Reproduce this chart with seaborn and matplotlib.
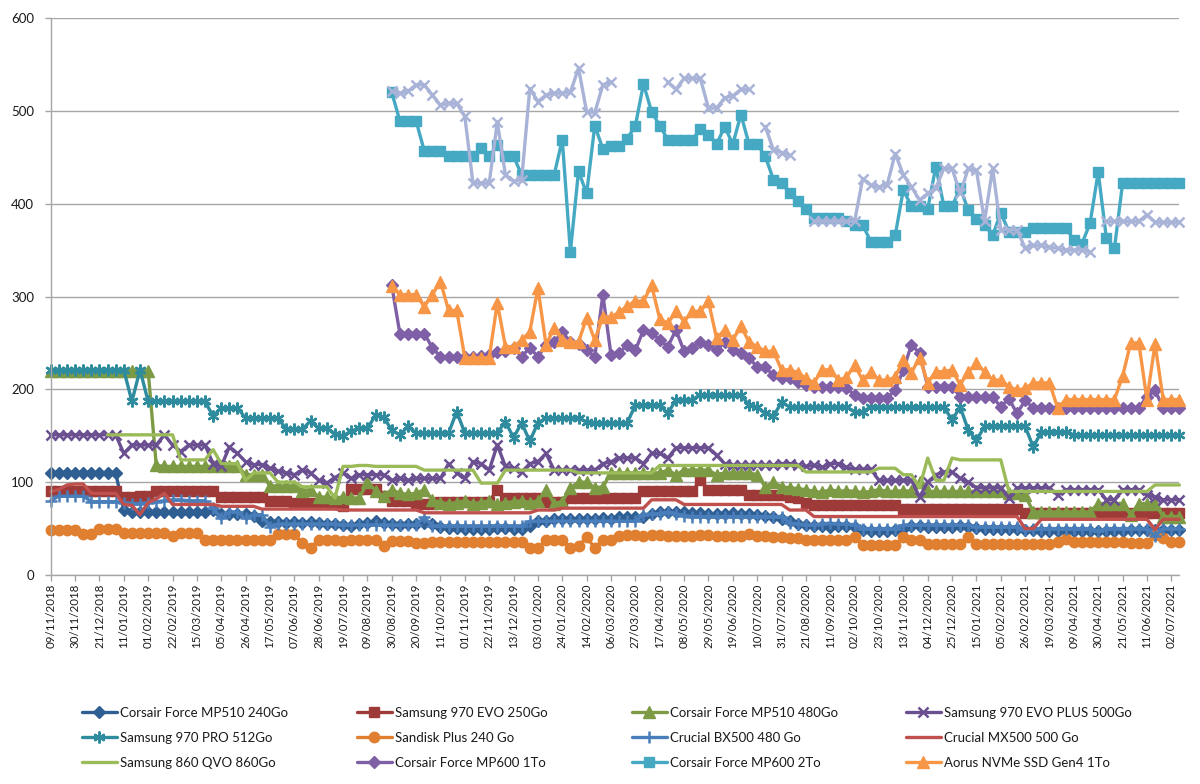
import numpy as np
import pandas as pd
import matplotlib
matplotlib.use("Agg")
import matplotlib.pyplot as plt
from matplotlib.lines import Line2D
import seaborn as sns

nan = float("nan")

tick_labels = [
    "09/11/2018", "30/11/2018", "21/12/2018", "11/01/2019", "01/02/2019", "22/02/2019",
    "15/03/2019", "05/04/2019", "26/04/2019", "17/05/2019", "07/06/2019", "28/06/2019",
    "19/07/2019", "09/08/2019", "30/08/2019", "20/09/2019", "11/10/2019", "01/11/2019",
    "22/11/2019", "13/12/2019", "03/01/2020", "24/01/2020", "14/02/2020", "06/03/2020",
    "27/03/2020", "17/04/2020", "08/05/2020", "29/05/2020", "19/06/2020", "10/07/2020",
    "31/07/2020", "21/08/2020", "11/09/2020", "02/10/2020", "23/10/2020", "13/11/2020",
    "04/12/2020", "25/12/2020", "15/01/2021", "05/02/2021", "26/02/2021", "19/03/2021",
    "09/04/2021", "30/04/2021", "21/05/2021", "11/06/2021", "02/07/2021",
]

# weekly prices (140 weeks, first = 09/11/2018)
mp510_240 = [
    110, 110, 110, 110, 110, 110, 110, 110, 110,
    70, 68, 68, 68, 68, 68, 68, 68, 68, 68, 68,
    70,
    66, 66, 66, 66, 64,
    58, 57, 57, 56, 57, 56, 57, 56, 55, 55,
    54, 53, 55, 56, 58, 56, 55, 54, 55, 55,
    56, 55, 52, 51, 51, 50, 50, 50, 50, 51, 51, 50, 50, 53,
    58, 58, 60, 60, 60, 60, 60, 60, 61, 60, 62, 62, 62, 63,
    66, 68, 68, 68, 68, 67, 67, 66, 66, 66, 67, 66, 66, 65, 64, 63, 60,
    58, 55, 54,
    53, 53, 52, 53, 53, 52,
    48, 47, 47, 47, 48,
    50,
    53, 53, 52, 52, 52, 52, 53, 52,
    51,
    50, 50, 50, 50, 50,
    49, 48,
    47, 47, 47, 47, 47, 47, 47, 47, 47, 47, 47,
    48,
    49, 49, 49, 49, 49, 49,
]

evo970_250 = [
    90, 90, 90, 90, 90, 90, 90, 90, 90,
    84, 84,
    85, 85,
    91, 91, 91, 91, 91, 91, 91, 91,
    84, 84, 84, 84, 84, 84,
    80, 80, 80,
    78, 78, 78, 78, 78, 78,
    74,
    93, 93, 93, 93,
    85,
    80, 80, 80,
    76, 76, 76, 79, 79, 79, 79, 79, 79, 79,
    92,
    83, 83, 83, 83, 83,
    79, 79, 79,
    83, 83, 83, 83, 83, 83, 83, 83, 83,
    90, 90, 90, 90, 90, 90, 90,
    102,
    92, 92, 92, 92, 92,
    86, 86, 86, 86, 86,
    84, 83, 78,
    75, 75, 75, 75, 75, 75, 75, 75, 75, 75, 75,
    71, 71, 71, 71, 71, 71, 71, 71, 71, 71, 71, 71, 71, 71, 71,
    67, 67, 67, 67, 67, 67, 67, 67, 67, 67, 67, 67, 67, 67, 67, 67, 67, 67, 67, 67,
]

mp510_480 = [
    220, 220, 220, 220, 220, 220, 220, 220, 220, 220, 220, 220, 220,
    118,
    117, 117, 117, 117, 117, 117,
    117, 117, 117, 117,
    108, 108, 108,
    96, 96, 96, 96,
    91, 92,
    84, 84, 83, 84, 83,
    83, 100, 91, 85, 92, 88, 87, 88, 92, 81,
    78, 77, 78, 80, 77, 78, 80, 77, 78, 79, 80, 78, 80,
    92, 77, 79, 94,
    100, 100,
    94, 95,
    110, 110, 110, 110, 110, 110, 110,
    113, 108,
    113, 113, 113, 113,
    108,
    110, 110, 110, 110,
    108, 95, 100, 95, 94,
    93, 92,
    90, 89, 92, 90, 91, 90, 89, 90, 92, 90, 90, 91, 90,
    100,
    90, 90, 90, 90, 90, 90, 90, 90, 90, 90,
    88, 88, 86,
    68, 68, 68, 68, 68, 68, 68, 68,
    77, 77, 77, 77,
    65,
    77, 77, 77,
    63, 63, 63,
]

evoplus970_500 = [
    151, 151, 151, 151, 151, 151, 151, 151, 151,
    131,
    140, 140, 140, 140,
    151, 140, 133,
    140, 140, 140,
    120, 117, 138, 131, 122,
    119, 119,
    115, 112, 110, 108, 113, 110, 102, 99, 105, 110, 104,
    108, 108, 108, 108,
    102, 104,
    102, 104, 104, 104, 104,
    120, 110, 104, 122, 120, 113, 140, 117, 115, 111, 120, 122, 131,
    113, 113, 113, 113, 113, 113,
    120, 122,
    126, 126, 126,
    120,
    131, 131,
    126,
    137, 137, 137, 137, 137,
    129,
    120, 118, 118, 118, 118, 118, 118,
    120, 120,
    118, 117, 118, 116, 120, 120, 116, 114, 114, 114,
    102, 102, 102, 102, 102,
    84, 100, 108,
    111, 111,
    104, 100,
    94, 94, 94, 94,
    83,
    94, 94, 94, 94, 94,
    86,
    92, 92, 92, 92, 92,
    81, 81,
    92, 92, 92,
    86, 84,
    81, 81, 81,
]

pro970_512 = [
    221, 221, 221, 221, 221, 221, 221, 221, 221, 221,
    187, 221,
    187, 187, 187, 187, 187, 187, 187, 187,
    171,
    180, 180, 180,
    169, 169, 169, 169, 169,
    157, 157, 157,
    166, 158, 158, 152, 150, 155, 158, 158, 172, 170, 156, 151, 160,
    153, 153, 153, 153, 153,
    176,
    153, 153, 153, 153, 153,
    165, 148, 164, 144, 164,
    169, 169, 169, 169, 169,
    165,
    164, 164, 164, 164, 164,
    183, 183, 183, 183,
    174,
    189, 189, 189,
    194, 194, 194, 194, 194, 194,
    183, 181, 174, 171, 186,
    181, 181, 181, 181, 181, 181, 181, 181,
    176, 176,
    181, 181, 181, 181, 181, 181, 181, 181, 181, 181,
    167, 181, 156, 145,
    160, 160, 160, 160, 160, 160,
    138,
    154, 154, 154, 154,
    151, 151, 151, 151, 151, 151, 151, 151, 151, 151, 151, 151, 151, 151,
]

sandisk_240 = [
    49, 49, 49, 49,
    44, 44,
    50, 50, 50,
    45, 45, 45, 45, 45, 45,
    42,
    45, 45, 45,
    38, 38, 38, 38, 38, 38, 38, 38, 38,
    44, 44, 44,
    34, 29,
    38, 38, 38,
    37,
    38, 38, 38, 38,
    31,
    37, 37, 37,
    35, 35, 36,
    36, 36, 36, 36, 36, 36, 36, 36, 36, 36, 36,
    29, 29,
    38, 38, 38,
    29, 31, 41, 29,
    38, 38,
    42, 43, 43, 42, 43, 43, 42, 42, 42, 42, 43, 43, 42, 42, 42, 42, 44, 42, 42, 41, 41, 40,
    40, 38,
    38, 38, 38, 38, 38,
    41,
    32, 32, 32, 32, 32,
    41,
    38, 38,
    33, 33, 33, 33, 33,
    41,
    33, 33, 33, 33, 33, 33, 33, 33, 33, 33,
    36, 39,
    36, 36, 36, 36, 36, 36, 36,
    35, 35, 35,
    43, 40,
    36, 36,
]

bx500_480 = [
    80, 85, 85, 85, 85, 79, 79, 79, 79,
    78, 77, 77, 78, 79, 80, 81, 81, 80, 80, 80,
    72,
    61, 68, 68, 61, 65, 65,
    52, 55, 55, 55, 55, 55, 55, 55, 55,
    54, 54, 54, 54, 54, 54, 54, 54, 54, 54,
    62,
    53, 53, 53, 53, 53, 53, 53, 53, 53, 53, 53, 53,
    58, 58, 58, 58, 58, 58, 58, 58, 58, 58, 58, 58, 58, 58,
    65, 66, 66, 68, 66, 64, 63,
    63, 63, 63, 63, 63, 63, 63, 63, 63, 63, 63,
    56, 55, 54, 54, 55, 56, 55, 55, 54,
    50, 50, 50, 50, 50,
    54, 54, 54, 54, 54, 54, 54, 54, 54,
    52, 52, 52, 52, 52, 52,
    48, 50,
    50, 50, 50, 50, 50, 50, 50,
    47,
    50, 50, 50, 50, 50, 50,
    42,
    50, 50, 50,
]

mx500_500 = [
    90, 92, 97, 98, 98,
    88, 88, 88, 88,
    76, 75, 65, 78, 82, 88,
    76, 76, 76, 76, 76, 76,
    74, 74, 74, 74, 74,
    71, 71, 71, 71, 71, 71, 71, 71, 71, 71,
    70, 70, 70, 70, 70, 70, 70, 70, 70, 70,
    67, 67, 67, 67, 67, 67, 67, 67, 67, 67, 67, 67, 67, 67,
    70, 70, 70,
    72, 72, 72, 72, 72, 72, 72, 72, 72, 72, 72,
    81, 81, 81, 81,
    76, 76, 76, 76, 76, 76, 76, 76, 76, 76, 76, 76, 76,
    70, 70, 70,
    63, 63, 63, 63, 63, 63, 63, 63, 63, 63, 63, 63, 63,
    63, 63, 63, 63, 63, 63, 63, 63, 63, 63, 63, 63, 63,
    50, 50,
    60, 60, 60, 60, 60, 60, 60, 60, 60, 60, 60, 60, 60, 60,
    49,
    60, 60, 60,
]

qvo860_860 = [
    nan, nan, nan, nan, nan, nan, nan,
    151, 151, 151, 151, 151, 151, 151, 151, 151,
    124, 124, 124, 124,
    135,
    120, 120, 120,
    102,
    110, 110, 110,
    100, 100, 100,
    95, 95, 95, 95,
    83,
    117, 117, 118, 118, 117, 117, 117, 117, 117, 117,
    113, 113, 113, 113, 113, 113, 113,
    99, 99, 99,
    113, 113, 113, 113, 113, 113, 113, 113, 113,
    110, 110, 110, 110, 110, 110, 110, 110, 110, 110,
    118, 118, 118, 118, 118, 118, 118, 118, 118, 118, 118, 118, 118, 118, 118, 118, 118, 118,
    111, 111, 111, 111, 111, 111, 111, 111, 111,
    115, 115, 115,
    108, 108,
    94, 126,
    102, 102,
    126,
    124, 124, 124, 124, 124, 124,
    90, 90, 90, 90, 90, 90, 90, 90, 90, 90, 90, 90, 90, 90, 90, 90, 90, 90,
    97, 97, 97, 97,
]

mp600_1to = [
    nan, nan, nan, nan, nan, nan, nan, nan, nan, nan, nan, nan, nan, nan,
    nan, nan, nan, nan, nan, nan, nan, nan, nan, nan, nan, nan, nan, nan,
    nan, nan, nan, nan, nan, nan, nan, nan, nan, nan, nan, nan, nan, nan,
    312,
    260, 260, 260, 260,
    245,
    235, 235, 235,
    235, 235, 236, 237,
    240, 241, 245, 235, 245, 235, 248, 251, 262, 251, 249, 242, 235, 302,
    237, 239, 248, 242, 264, 261, 253, 246, 264, 241, 245, 251, 248, 242,
    251, 242, 239, 234, 224, 224, 215, 212, 212, 208, 205,
    203, 203, 203, 203, 201,
    194,
    191, 191, 191, 191,
    199, 221, 248, 239,
    203, 203, 203, 203,
    192, 192, 192, 192, 192,
    181, 190, 174, 188,
    180, 180, 180, 180, 180, 180, 180, 180, 180, 180, 180, 180, 180, 180,
    192, 199,
    180, 180, 180,
]

mp600_2to = [
    nan, nan, nan, nan, nan, nan, nan, nan, nan, nan, nan, nan, nan, nan,
    nan, nan, nan, nan, nan, nan, nan, nan, nan, nan, nan, nan, nan, nan,
    nan, nan, nan, nan, nan, nan, nan, nan, nan, nan, nan, nan, nan, nan,
    520,
    489, 489, 489,
    457, 457, 457,
    451, 451, 451, 451,
    460, 451, 463,
    451, 451,
    431, 431, 431, 431, 431,
    469, 348, 435, 411, 484, 459, 462, 462, 470, 484, 529, 499, 484,
    469, 469, 469, 469,
    480, 474, 464, 483, 464, 496, 464, 464, 451, 426, 422, 412, 403, 394,
    385, 385, 385, 385,
    381, 377, 377,
    359, 359, 359,
    366, 415, 397, 397, 394, 440, 397, 397, 417, 393, 383, 377, 366, 390,
    370, 370, 370,
    374, 374, 374, 374, 374,
    361, 357, 379, 434, 363, 352,
    422, 422, 422, 422, 422, 422, 422, 422,
]

aorus_1to = [
    nan, nan, nan, nan, nan, nan, nan, nan, nan, nan, nan, nan, nan, nan,
    nan, nan, nan, nan, nan, nan, nan, nan, nan, nan, nan, nan, nan, nan,
    nan, nan, nan, nan, nan, nan, nan, nan, nan, nan, nan, nan, nan, nan,
    311,
    302, 302, 302,
    289, 302, 316,
    285, 285,
    234, 234, 234, 234,
    293,
    246, 246,
    253, 262, 309, 248, 266, 253,
    251, 251,
    277, 253,
    278, 278,
    283, 290,
    295, 295,
    312, 276, 271, 284, 273,
    284, 284,
    295, 255, 264, 253, 268, 251, 246,
    241, 241,
    221, 221,
    218, 212, 207,
    221, 221,
    210, 213, 226, 210, 219,
    210, 210,
    213, 232, 218, 234, 207,
    219, 219,
    221, 205, 219, 228, 219,
    210, 210,
    203, 199, 201,
    207, 207, 207,
    180,
    189, 189, 189, 189, 189, 189, 189,
    214,
    250, 250,
    189, 249,
    189, 189, 189,
]

unlisted_x = [
    nan, nan, nan, nan, nan, nan, nan, nan, nan, nan, nan, nan, nan, nan,
    nan, nan, nan, nan, nan, nan, nan, nan, nan, nan, nan, nan, nan, nan,
    nan, nan, nan, nan, nan, nan, nan, nan, nan, nan, nan, nan, nan, nan,
    521, 519, 521, 528, 528, 517, 506, 508, 508, 494,
    422, 422, 422,
    488, 431, 424, 426, 524, 510, 517, 519, 519, 520, 546, 499, 498, 528, 531,
    nan, nan, nan, nan, nan, nan,
    531, 523,
    535, 535, 535,
    503, 503,
    514, 516,
    523, 523,
    nan,
    483, 458, 455, 452,
    nan, nan,
    381, 381, 381, 381, 381, 381,
    427, 420, 418, 420, 454, 431, 418, 404, 411, 417,
    438, 438,
    411, 438, 436, 381, 438,
    372, 372, 372,
    352,
    355, 355,
    353, 352,
    350, 350, 350,
    348,
    nan,
    381, 381, 381, 381, 381,
    388,
    380, 380, 380, 380,
]

series = [
    ("Corsair Force MP510 240Go", mp510_240),
    ("Samsung 970 EVO 250Go", evo970_250),
    ("Corsair Force MP510 480Go", mp510_480),
    ("Samsung 970 EVO PLUS 500Go", evoplus970_500),
    ("Samsung 970 PRO 512Go", pro970_512),
    ("Sandisk Plus 240 Go", sandisk_240),
    ("Crucial BX500 480 Go", bx500_480),
    ("Crucial MX500 500 Go", mx500_500),
    ("Samsung 860 QVO 860Go", qvo860_860),
    ("Corsair Force MP600 1To", mp600_1to),
    ("Corsair Force MP600 2To", mp600_2to),
    ("Aorus NVMe SSD Gen4 1To", aorus_1to),
    ("_unlisted", unlisted_x),
]

# (color, marker, markersize, markeredgewidth)
styles = [
    ("#2F5E93", "D", 6.5, 1.0),
    ("#9E3A38", "s", 7.2, 1.0),
    ("#7D9B45", "^", 8.2, 1.0),
    ("#6A4F91", "x", 7.5, 1.8),
    ("#2E8C9E", (6, 2, 0), 8.5, 1.7),
    ("#E07F2F", "o", 7.5, 1.0),
    ("#4A7EBB", "+", 9.0, 1.8),
    ("#C0504D", None, 0, 0),
    ("#9BBB59", None, 0, 0),
    ("#7F5FA6", "D", 6.5, 1.0),
    ("#45A9C3", "s", 7.2, 1.0),
    ("#F79646", "^", 8.2, 1.0),
    ("#A8B3D7", "x", 7.5, 1.8),
]

for _, vals in series:
    assert len(vals) == 140, len(vals)

sns.set_theme(style="white")
plt.rcParams["font.family"] = ["Lato", "DejaVu Sans"]

fig = plt.figure(figsize=(12, 7.84), dpi=100)
ax = fig.add_axes([0.04225, 0.26658, 0.9406, 0.71046])

weeks = np.arange(140)
LW = 2.4
for (name, vals), (color, marker, ms, mew) in zip(series, styles):
    y = np.array(vals, dtype=float)
    idx = np.where(~np.isnan(y))[0]
    runs = np.split(idx, np.where(np.diff(idx) != 1)[0] + 1)
    for run in runs:
        if len(run) == 0:
            continue
        df = pd.DataFrame({"week": weeks[run], "price": y[run]})
        kw = dict(color=color, linewidth=LW, clip_on=False)
        if marker is not None:
            kw.update(marker=marker, markersize=ms, markeredgecolor=color,
                      markerfacecolor=color, markeredgewidth=mew)
        sns.lineplot(data=df, x="week", y="price", ax=ax, estimator=None,
                     sort=False, legend=False, **kw)

ax.set_xlim(0, 139)
ax.set_ylim(0, 600)
ax.set_yticks(range(0, 601, 100))
ax.set_xticks(range(0, 139, 3))
ax.set_xticklabels(tick_labels, rotation=90)
ax.set_xlabel("")
ax.set_ylabel("")
ax.grid(axis="y", color="#A6A6A6", linewidth=1.0)
ax.grid(axis="x", visible=False)
ax.set_axisbelow(True)
for s in ("top", "right"):
    ax.spines[s].set_visible(False)
for s in ("left", "bottom"):
    ax.spines[s].set_color("#A6A6A6")
    ax.spines[s].set_linewidth(1.0)
ax.tick_params(axis="x", bottom=True, length=4, width=1, color="#A6A6A6",
               pad=2, labelsize=8.3, labelcolor="#1A1A1A")
ax.tick_params(axis="y", left=True, length=4, width=1, color="#A6A6A6",
               pad=8, labelsize=9.5, labelcolor="#1A1A1A")

# legend: 3 rows x 4 columns, filled row by row
col_x = [82, 357, 632, 906]
for c in range(4):
    handles, labels = [], []
    for r in range(3):
        k = r * 4 + c
        name = series[k][0]
        color, marker, ms, mew = styles[k]
        if marker is None:
            h = Line2D([], [], color=color, linewidth=LW)
        else:
            h = Line2D([], [], color=color, linewidth=LW, marker=marker,
                       markersize=ms, markeredgecolor=color,
                       markerfacecolor=color, markeredgewidth=mew)
        handles.append(h)
        labels.append(name)
    fig.legend(handles, labels, loc="upper left",
               bbox_to_anchor=(col_x[c] / 1200, 1 - 707 / 784),
               frameon=False, borderpad=0, borderaxespad=0,
               handlelength=2.65, handletextpad=0.25, labelspacing=0.98,
               fontsize=9.5, numpoints=1, labelcolor="#1A1A1A")

fig.savefig("out.png", dpi=100)
